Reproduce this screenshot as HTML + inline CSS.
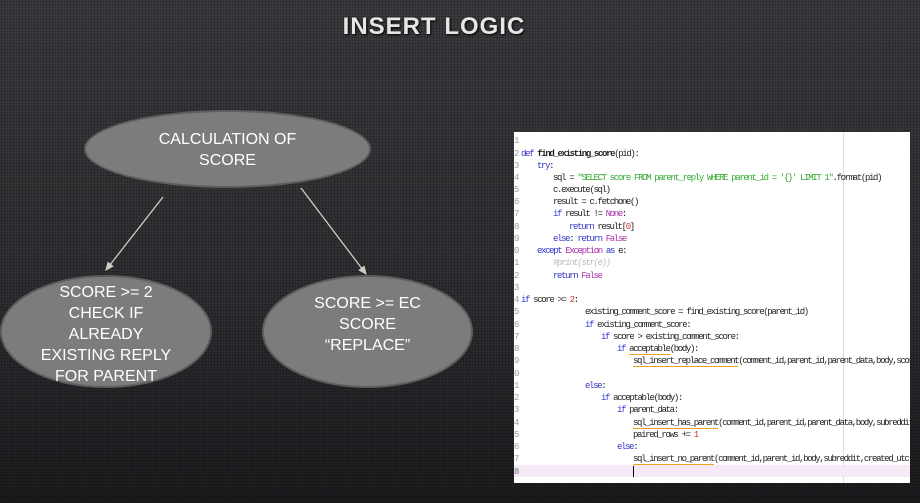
<!DOCTYPE html>
<html><head><meta charset="utf-8"><style>
body{margin:0;width:920px;height:503px;overflow:hidden;position:relative;font-family:"Liberation Sans",sans-serif;
background:radial-gradient(circle,rgba(0,0,0,.35) 0.8px,transparent 1.2px) 0 0/3px 3px,linear-gradient(#3b3d40,#2e3033 60%,#1c1d1f);}
.t{position:absolute;left:0;width:868px;top:13px;text-align:center;color:#e6e6e6;font-weight:bold;font-size:24px;text-shadow:1px 1px 2px #000;letter-spacing:1px}
.e{position:absolute;border-radius:50%;background:#7c7c7c;border:2px solid #5e5e5e;box-sizing:border-box;color:#fff;font-size:16px;text-align:center;line-height:21px}
#code{position:absolute;left:514px;top:132px;width:396px;height:351px;background:#fff;overflow:hidden;font-family:"Liberation Mono",monospace;font-size:9px;letter-spacing:-1.35px;color:#222}
#code div{position:absolute;height:12px;line-height:12px;white-space:pre;left:0}
.n{position:absolute;left:0;color:#999}
.k{color:#33c}.s{color:#3a3}.m{color:#a3a}.r{color:#c33}.c{color:#bbb;font-style:italic}.u{border-bottom:1px solid #f0a020}
</style></head><body>
<div class="t">INSERT LOGIC</div>
<svg width="920" height="503" style="position:absolute;left:0;top:0">
<defs><marker id="a" markerWidth="8" markerHeight="8" refX="6" refY="4" orient="auto"><path d="M0,1 L7,4 L0,7 z" fill="#cfcfbf"/></marker></defs>
<line x1="163" y1="197" x2="106" y2="270" stroke="#cfcfbf" stroke-width="1.3" marker-end="url(#a)"/>
<line x1="301" y1="188" x2="366" y2="274" stroke="#cfcfbf" stroke-width="1.3" marker-end="url(#a)"/>
</svg>
<div class="e" style="left:84px;top:110px;width:287px;height:78px;padding-top:17px">CALCULATION OF<br>SCORE</div>
<div class="e" style="left:0;top:275px;width:212px;height:113px;padding-top:5px">SCORE &gt;= 2<br>CHECK IF<br>ALREADY<br>EXISTING REPLY<br>FOR PARENT</div>
<div class="e" style="left:262px;top:275px;width:211px;height:113px;padding-top:16px">SCORE &gt;= EC<br>SCORE<br>“REPLACE”</div>
<div id="code">
<div style="left:329px;top:0;width:1px;height:351px;background:#ddd"></div>
<div style="top:333px;width:396px;background:#f6eaf6"></div>
<div style="left:119px;top:334px;width:1px;height:11px;background:#000"></div>
<div style="top:3px"><span class="n">1</span></div>
<div style="top:16px"><span class="n">2</span><span style="padding-left:7px"><span class="k">def</span> <b>find_existing_score</b>(pid):</span></div>
<div style="top:28px"><span class="n">3</span><span style="padding-left:23px" class="k">try</span>:</div>
<div style="top:40px"><span class="n">4</span><span style="padding-left:39px">sql = <span class="s">"SELECT score FROM parent_reply WHERE parent_id = '{}' LIMIT 1"</span>.format(pid)</span></div>
<div style="top:52px"><span class="n">5</span><span style="padding-left:39px">c.execute(sql)</span></div>
<div style="top:64px"><span class="n">6</span><span style="padding-left:39px">result = c.fetchone()</span></div>
<div style="top:76px"><span class="n">7</span><span style="padding-left:39px"><span class="k">if</span> result != <span class="m">None</span>:</span></div>
<div style="top:89px"><span class="n">8</span><span style="padding-left:55px"><span class="k">return</span> result[<span class="r">0</span>]</span></div>
<div style="top:101px"><span class="n">9</span><span style="padding-left:39px"><span class="k">else</span>: <span class="k">return</span> <span class="m">False</span></span></div>
<div style="top:113px"><span class="n">0</span><span style="padding-left:23px"><span class="k">except</span> <span class="m">Exception</span> <span class="k">as</span> e:</span></div>
<div style="top:125px"><span class="n">1</span><span style="padding-left:39px" class="c">#print(str(e))</span></div>
<div style="top:138px"><span class="n">2</span><span style="padding-left:39px"><span class="k">return</span> <span class="m">False</span></span></div>
<div style="top:150px"><span class="n">3</span></div>
<div style="top:162px"><span class="n">4</span><span style="padding-left:7px"><span class="k">if</span> score &gt;= <span class="r">2</span>:</span></div>
<div style="top:174px"><span class="n">5</span><span style="padding-left:71px">existing_comment_score = find_existing_score(parent_id)</span></div>
<div style="top:187px"><span class="n">6</span><span style="padding-left:71px"><span class="k">if</span> existing_comment_score:</span></div>
<div style="top:199px"><span class="n">7</span><span style="padding-left:87px"><span class="k">if</span> score &gt; existing_comment_score:</span></div>
<div style="top:211px"><span class="n">8</span><span style="padding-left:103px"><span class="k">if</span> <span class="u">acceptable</span>(body):</span></div>
<div style="top:223px"><span class="n">9</span><span style="padding-left:119px"><span class="u">sql_insert_replace_comment</span>(comment_id,parent_id,parent_data,body,score</span></div>
<div style="top:236px"><span class="n">0</span></div>
<div style="top:248px"><span class="n">1</span><span style="padding-left:71px" class="k">else</span>:</div>
<div style="top:260px"><span class="n">2</span><span style="padding-left:87px"><span class="k">if</span> acceptable(body):</span></div>
<div style="top:272px"><span class="n">3</span><span style="padding-left:103px"><span class="k">if</span> parent_data:</span></div>
<div style="top:285px"><span class="n">4</span><span style="padding-left:119px"><span class="u">sql_insert_has_parent</span>(comment_id,parent_id,parent_data,body,subreddit</span></div>
<div style="top:297px"><span class="n">5</span><span style="padding-left:119px">paired_rows += <span class="r">1</span></span></div>
<div style="top:309px"><span class="n">6</span><span style="padding-left:103px" class="k">else</span>:</div>
<div style="top:321px"><span class="n">7</span><span style="padding-left:119px"><span class="u">sql_insert_no_parent</span>(comment_id,parent_id,body,subreddit,created_utc</span></div>
<div style="top:334px"><span class="n"><b>8</b></span></div>
</div>
</body></html>
